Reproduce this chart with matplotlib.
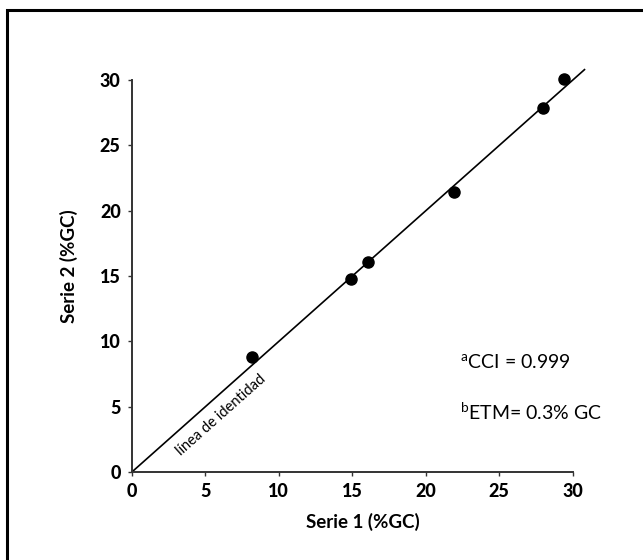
import numpy as np
import matplotlib
matplotlib.use('Agg')
import matplotlib.pyplot as plt
from matplotlib.patches import Rectangle

plt.rcParams['font.family'] = ['Lato', 'DejaVu Sans']
plt.rcParams['mathtext.fontset'] = 'custom'
plt.rcParams['mathtext.rm'] = 'Lato'

# datos
serie1 = [8.2, 14.9, 16.05, 21.9, 27.95, 29.4]
serie2 = [8.8, 14.75, 16.05, 21.4, 27.85, 30.05]
identidad = [0, 30.8]
ticks = [0, 5, 10, 15, 20, 25, 30]

fig = plt.figure(figsize=(6.43, 5.6), dpi=100)
# marco alrededor de la figura
fig.patches.append(Rectangle((0.011, -0.05), 1.2, 1.032, transform=fig.transFigure,
                             fill=False, edgecolor='black', linewidth=2.2))
ax = fig.add_axes([0.205, 0.157, 0.72, 0.735])

ax.plot(identidad, identidad, color='black', linewidth=1.2, zorder=2)
ax.plot(serie1, serie2, 'o', color='black', markersize=8, zorder=3)

ax.set_xlim(0, 31.5)
ax.set_ylim(0, 31.5)
ax.set_xticks(ticks)
ax.set_yticks(ticks)
for s in ['top', 'right']:
    ax.spines[s].set_visible(False)
for s in ['left', 'bottom']:
    ax.spines[s].set_bounds(0, 30)
    ax.spines[s].set_color('#333333')
    ax.spines[s].set_linewidth(1.4)
ax.tick_params(direction='out', length=3, width=1, color='#333333', pad=5,
               labelsize=13)
for lab in ax.get_xticklabels() + ax.get_yticklabels():
    lab.set_fontweight('black')

ax.set_xlabel('Serie 1 (%GC)', fontsize=13.5, fontweight='bold', labelpad=9)
ax.set_ylabel('Serie 2 (%GC)', fontsize=13.5, fontweight='bold', labelpad=16)

ax.text(6.1, 4.4, 'línea de identidad', rotation=41.6, ha='center', va='center',
        fontsize=10.5)
ax.text(22.3, 8.4, r'$^{\mathrm{a}}$CCI = 0.999', fontsize=14, va='center')
ax.text(22.3, 4.6, r'$^{\mathrm{b}}$ETM= 0.3% GC', fontsize=14, va='center')

fig.savefig('out.png', dpi=100)
